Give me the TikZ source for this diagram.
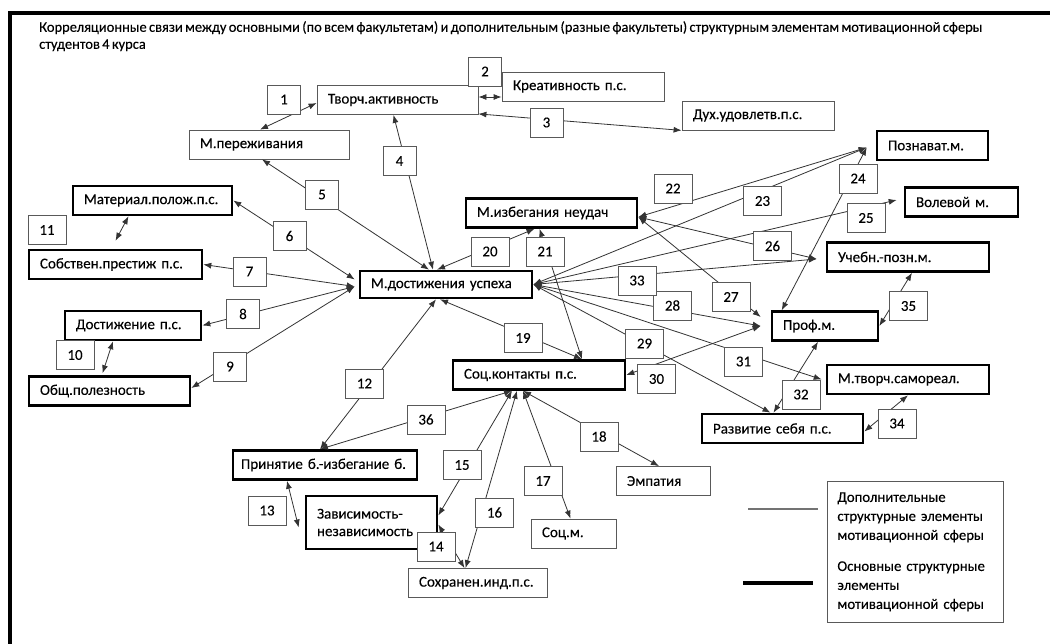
\documentclass[tikz,border=0pt]{standalone}
\usepackage{fontspec}
\setmainfont{Carlito}[WordSpace=0.7, FakeBold=0.12]
\usetikzlibrary{shapes,arrows,calc}
\usetikzlibrary{positioning,arrows.meta}
\tikzstyle{ptr}   = [draw=black!80, line width=0.8pt, {Latex[length=8pt,width=6pt]}-{Latex[length=8pt,width=6pt]}]
\tikzstyle{extra} = [rectangle, draw=black!65, line width=0.8pt, minimum height=29pt, inner xsep=11pt, align=left, font=\fontsize{15}{17.5}\selectfont]
\tikzstyle{basic} = [extra, draw=black, line width=2.6pt]
\tikzstyle{num}   = [rectangle, draw=black!65, line width=0.8pt, fill=white, minimum width=38pt, minimum height=29pt, inner sep=0pt, font=\fontsize{15}{17}\selectfont]
\tikzstyle{numa}  = [num, minimum width=33pt]

\begin{document}
\begin{tikzpicture}[x=1pt, y=-1pt]
    \useasboundingbox (0,0) rectangle (1050,644);
    \fill[white] (0,0) rectangle (1050,644);
    \draw[line width=4pt] (9.5,644) -- (9.5,13.5) -- (1050,13.5);

    \node[anchor=north west, align=left, inner sep=0pt, font=\fontsize{14.5}{17}\selectfont] (title) at (39,21)
    {Корреляционные связи между основными (по всем факультетам) и дополнительным (разные факультеты) структурным элементам мотивационной сферы\\студентов 4 курса};

    % elements
    \node[extra, text width=139pt] (tvor)    at (397.5,100)   {Творч.активность};
    \node[extra, text width=140pt] (kreat)   at (583,86.5)    {Креативность п.с.};
    \node[extra, text width=138pt] (perezh)  at (269,144.5)   {М.переживания};
    \node[extra, text width=130pt] (dukh)    at (758,115.5)   {Дух.удовлетв.п.с.};
    \node[basic, text width=89pt]  (poznav)  at (932.5,145.5) {Познават.м.};
    \node[basic, text width=137pt] (mater)   at (152.5,200.5) {Материал.полож.п.с.};
    \node[basic, text width=151pt] (sobstv)  at (115.5,264.5) {Собствен.престиж п.с.};
    \node[basic, text width=150pt, minimum height=27pt] (dost) at (446,284.5) {М.достижения успеха};
    \node[basic, text width=114pt] (dostizh) at (133,325.5)   {Достижение п.с.};
    \node[basic, text width=139pt] (obshch)  at (109.5,391)   {Общ.полезность};
    \node[basic, text width=149pt] (izbeg)   at (551.5,213)   {М.избегания неудач};
    \node[basic, text width=91pt]  (volev)   at (961.5,202)   {Волевой м.};
    \node[basic, text width=140pt] (ucheb)   at (908,257)     {Учебн.-позн.м.};
    \node[basic, text width=84pt]  (prof)    at (825,326)     {Проф.м.};
    \node[basic, text width=140pt] (tvorch)  at (908,379.5)   {М.творч.самореал.};
    \node[basic, text width=139pt] (razv)    at (782.5,428.5) {Развитие себя п.с.};
    \node[basic, text width=150pt] (sockont) at (539,375)     {Соц.контакты п.с.};
    \node[basic, text width=168pt, inner xsep=8pt] (prin) at (325,465) {Принятие б.-избегание б.};
    \node[basic, text width=109pt, minimum height=53pt] (zavis) at (371.5,522.5) {Зависимость-\\независимость};
    \node[extra, text width=117pt] (sokhr)   at (477.5,583)   {Сохранен.инд.п.с.};
    \node[extra, text width=72pt]  (empat)   at (663,481)     {Эмпатия};
    \node[extra, text width=63pt]  (socm)    at (573.5,533.5) {Соц.м.};

    % links
    \draw[ptr] ([yshift=-3pt]tvor.west) -- ([xshift=-9pt]perezh.north);
    \draw[ptr] ([yshift=3pt]tvor.east) -- ([yshift=3pt]tvor.east -| kreat.west);
    \draw[ptr] ([yshift=1pt]tvor.south east) -- (dukh.south west);
    \draw[ptr] ([xshift=-4pt]tvor.south) -- ([xshift=-13pt]dost.north);
    \draw[ptr] ([xshift=-7pt]perezh.south) -- ([xshift=-17pt]dost.north);
    \draw[ptr] (mater.east) -- ([xshift=-4pt,yshift=5pt]dost.west);
    \draw[ptr] (sobstv.east) -- ([xshift=-4pt,yshift=-2pt]dost.west);
    \draw[ptr] (dostizh.east) -- ([xshift=-4pt,yshift=-2pt]dost.west);
    \draw[ptr] ([yshift=3pt]obshch.east) -- ([xshift=-4pt,yshift=-2pt]dost.west);
    \draw[ptr] ([xshift=-20pt]dostizh.south) -- ([xshift=-7pt,yshift=2pt]obshch.north);
    \draw[ptr] ([xshift=-24pt]mater.south) -- ([yshift=8pt]sobstv.north);
    \draw[ptr] ([xshift=-10pt]dost.south) -- ([xshift=-5pt]prin.north);
    \draw[ptr] ([xshift=-38pt]prin.south) -- ([xshift=-6pt,yshift=-5pt]zavis.west);
    \draw[ptr] ([yshift=-2pt]zavis.east) -- ([xshift=-13pt]sokhr.north);
    \draw[ptr] ([xshift=-27pt]sockont.south) -- ([yshift=7pt]zavis.east);
    \draw[ptr] ([xshift=-22pt]sockont.south) -- ([xshift=-12pt]sokhr.north);
    \draw[ptr] ([xshift=-16pt]sockont.south) -- ([xshift=-3pt]socm.north);
    \draw[ptr] ([xshift=-16pt]sockont.south) -- ([xshift=-4pt]empat.north);
    \draw[ptr] ([xshift=-6pt]dost.south) -- ([xshift=43pt]sockont.north);
    \draw[ptr] ([xshift=-9pt]dost.north) -- ([xshift=-17pt]izbeg.south);
    \draw[ptr] ([xshift=-12pt]izbeg.south) -- ([xshift=43pt]sockont.north);
    \draw[ptr] ([yshift=-4pt]izbeg.east) -- ([xshift=-9pt,yshift=-2pt]poznav.west);
    \draw[ptr] (dost.east) -- ([xshift=-9pt,yshift=-2pt]poznav.west);
    \draw[ptr] ([xshift=-9pt,yshift=-2pt]poznav.west) -- ([xshift=11pt]prof.north west);
    \draw[ptr] (dost.east) -- ([xshift=-7pt,yshift=2pt]volev.west);
    \draw[ptr] ([yshift=-4pt]izbeg.east) -- ([xshift=-9pt,yshift=-2pt]ucheb.west);
    \draw[ptr] ([yshift=-4pt]izbeg.east) -- ([xshift=-10pt,yshift=9pt]prof.west);
    \draw[ptr] (dost.east) -- ([xshift=-10pt]prof.west);
    \draw[ptr] (dost.east) -- ([xshift=-12pt]razv.north);
    \draw[ptr] ([xshift=-10pt]prof.west) -- (sockont.east);
    \draw[ptr] (dost.east) -- ([xshift=-4pt]tvorch.west);
    \draw[ptr] ([xshift=-7pt]prof.south) -- ([xshift=-9pt]razv.north);
    \draw[ptr] (dost.east) -- ([xshift=-9pt,yshift=-2pt]ucheb.west);
    \draw[ptr] (tvorch.south) -- ([yshift=-3pt]razv.east);
    \draw[ptr] ([xshift=4pt]ucheb.south) -- (prof.east);
    \draw[ptr] ([xshift=-27pt]sockont.south) -- ([xshift=-5pt]prin.north);

    % link numbers
    \node[numa] (n1)  at (284,99.5)  {1};
    \node[numa] (n2)  at (485,71.5)  {2};
    \node[numa] (n3)  at (546.5,122.5) {3};
    \node[numa] (n4)  at (399.5,161) {4};
    \node[numa] (n5)  at (322,194.5) {5};
    \node[numa] (n6)  at (289.5,236) {6};
    \node[numa] (n7)  at (249.5,271.5) {7};
    \node[numa] (n8)  at (243,314)   {8};
    \node[numa] (n9)  at (230,366.5) {9};
    \node[num]  (n10) at (75,355)    {10};
    \node[num]  (n11) at (47,230)    {11};
    \node[num]  (n12) at (364.5,383.5) {12};
    \node[num]  (n13) at (267,510.5) {13};
    \node[num]  (n14) at (436,546.5) {14};
    \node[num]  (n15) at (462,465)   {15};
    \node[num]  (n16) at (494.5,512.5) {16};
    \node[num]  (n17) at (543,481)   {17};
    \node[num]  (n18) at (599,436.5) {18};
    \node[num]  (n19) at (523,338)   {19};
    \node[num]  (n20) at (490,251.5) {20};
    \node[num]  (n21) at (545,251.5) {21};
    \node[num]  (n22) at (673,188.5) {22};
    \node[num]  (n23) at (762.5,201) {23};
    \node[num]  (n24) at (858,178.5) {24};
    \node[num]  (n25) at (866,218)   {25};
    \node[num]  (n26) at (772.5,246) {26};
    \node[num]  (n27) at (731,297)   {27};
    \node[num]  (n28) at (672.5,305.5) {28};
    \node[num]  (n29) at (644.5,343.5) {29};
    \node[num]  (n30) at (656.5,379) {30};
    \node[num]  (n31) at (743.5,361.5) {31};
    \node[num]  (n32) at (801,394.5) {32};
    \node[num]  (n33) at (637,280.5) {33};
    \node[num]  (n34) at (897,423.5) {34};
    \node[num]  (n35) at (908.5,306) {35};
    \node[num]  (n36) at (426,419.5) {36};

    % legend
    \node[extra, anchor=north west, inner xsep=10pt, text width=156pt, minimum height=141pt, font=\fontsize{14.8}{19}\selectfont] (legend) at (827,481)
    {Дополнительные\\структурные элементы\\мотивационной сферы\\[12pt]Основные структурные\\элементы\\мотивационной сферы};
    \coordinate (thinA) at (748,509);
    \coordinate (thinB) at (818,509);
    \coordinate (thickA) at (743,583);
    \coordinate (thickB) at (813,583);
    \draw[black!55, line width=1.6pt] (thinA) -- (thinB);
    \draw[black, line width=3.5pt] (thickA) -- (thickB);

\end{tikzpicture}
\end{document}
